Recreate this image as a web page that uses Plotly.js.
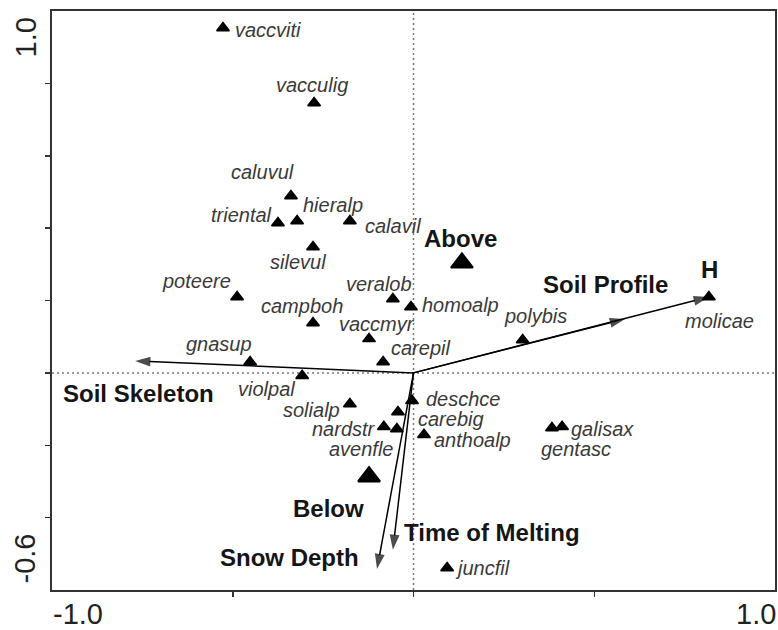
<!DOCTYPE html>
<html><head><meta charset="utf-8">
<script src="https://cdn.plot.ly/plotly-3.0.1.min.js"></script>
<style>html,body{margin:0;padding:0;background:#fff}</style>
</head><body><div id="chart" style="width:778px;height:630px"></div>
<script>
// ---- data: species scores (CCA biplot) ----
const species  = ['vaccviti','vacculig','caluvul','triental','hieralp','calavil','silevul','poteere','veralob','homoalp','campboh','vaccmyr','gnasup','carepil','violpal','solialp','deschce','carebig','nardstr','avenfle','anthoalp','galisax','gentasc','juncfil','polybis','molicae'];
const speciesX = [-0.527,-0.275,-0.339,-0.375,-0.322,-0.176,-0.278,-0.488,-0.057,-0.007,-0.278,-0.123,-0.452,-0.084,-0.308,-0.176,-0.004,-0.043,-0.082,-0.046,0.029,0.411,0.383,0.093,0.302,0.817];
const speciesY = [0.953,0.746,0.489,0.414,0.420,0.420,0.348,0.210,0.204,0.182,0.138,0.094,0.030,0.030,-0.008,-0.086,-0.077,-0.108,-0.149,-0.155,-0.171,-0.149,-0.152,-0.539,0.091,0.210];

// ---- data: nominal variables (centroids) ----
const groups  = ['Above','Below'];
const groupX  = [0.134,-0.123];
const groupY  = [0.304,-0.287];

// ---- data: environmental vectors ----
const envVars = ['Soil Profile','H','Soil Skeleton','Time of Melting','Snow Depth'];
const envX    = [0.585,0.817,-0.770,-0.057,-0.101];
const envY    = [0.149,0.210,0.033,-0.489,-0.542];

// ---- axis ----
const xRange = [-1.0,1.0];
const yRange = [-0.6,1.0];
const xTickLabels = ['-1.0','1.0'];
const yTickLabels = ['1.0','-0.6'];

// ---- label placement (pixel offsets from the point, layout only) ----
const speciesLabelOffset = [[45,-2],[-2,18],[-28,24],[-36,8],[36,16],[43,-5],[-15,-15],[-41,16],[-14,15],[50,2],[-11,17],[8,15],[-31,18],[37,14],[-36,-13],[-38,-6],[51,2],[53,-7],[-40,-2],[-35,-20],[49,-5],[40,-2],[24,-21],[35,0],[13,24],[11,-24]];
const groupLabelOffset = [[-1,24],[-41,-32]];
const envLabelOffset = [[-19,34],[1,27],[3.5,-33],[99.5,17],[-87,12]];

const FONT = 'Arial, "Liberation Sans", sans-serif';
const traces = [];

// vectors with arrowheads
envVars.forEach((name,i)=>{
  traces.push({
    type:'scatter', mode:'lines+markers', x:[0,envX[i]], y:[0,envY[i]],
    line:{color:'#000',width:1.5},
    marker:{symbol:'arrow',size:[0,16],angleref:'previous',color:'#000',line:{width:0}},
    hoverinfo:'skip', cliponaxis:false
  });
});

// species triangles
traces.push({
  type:'scatter', mode:'markers', x:speciesX, y:speciesY, text:species,
  marker:{symbol:'triangle-up',size:11,color:'#000',line:{color:'#000',width:1.5}},
  cliponaxis:false
});
// group centroids
traces.push({
  type:'scatter', mode:'markers', x:groupX, y:groupY, text:groups,
  marker:{symbol:'triangle-up',size:19,color:'#000',line:{color:'#000',width:2}},
  cliponaxis:false
});

const annotations = [];
species.forEach((s,i)=>{
  annotations.push({x:speciesX[i],y:speciesY[i],xref:'x',yref:'y',text:s,showarrow:false,
    xanchor:'center',yanchor:'middle',xshift:speciesLabelOffset[i][0],yshift:speciesLabelOffset[i][1],
    borderpad:0,
    font:{family:FONT,size:20,style:'italic',color:'#3a3a3a'}});
});
groups.forEach((g,i)=>{
  annotations.push({x:groupX[i],y:groupY[i],xref:'x',yref:'y',text:g,showarrow:false,
    xanchor:'center',yanchor:'middle',xshift:groupLabelOffset[i][0],yshift:groupLabelOffset[i][1],
    font:{family:FONT,size:24,weight:700,color:'#151515'}});
});
envVars.forEach((e,i)=>{
  annotations.push({x:envX[i],y:envY[i],xref:'x',yref:'y',text:e,showarrow:false,
    xanchor:'center',yanchor:'middle',xshift:envLabelOffset[i][0],yshift:envLabelOffset[i][1],
    font:{family:FONT,size:24,weight:700,color:'#151515'}});
});
// extreme tick labels (CANOCO style)
const tickFont = {family:FONT,size:29,color:'#222'};
annotations.push({x:xRange[0],y:0,xref:'x',yref:'paper',text:xTickLabels[0],showarrow:false,xanchor:'left',yanchor:'middle',borderpad:0,xshift:0,yshift:-24,font:tickFont});
annotations.push({x:xRange[1],y:0,xref:'x',yref:'paper',text:xTickLabels[1],showarrow:false,xanchor:'right',yanchor:'middle',borderpad:0,xshift:2,yshift:-24,font:tickFont});
annotations.push({x:0,y:yRange[1],xref:'paper',yref:'y',text:yTickLabels[0],showarrow:false,textangle:-90,xanchor:'center',yanchor:'middle',xshift:-27,yshift:-26.5,font:tickFont});
annotations.push({x:0,y:yRange[0],xref:'paper',yref:'y',text:yTickLabels[1],showarrow:false,textangle:-90,xanchor:'center',yanchor:'middle',xshift:-28,yshift:31.5,font:tickFont});

const axisCommon = {showgrid:false,zeroline:false,showline:true,mirror:true,linecolor:'#333',linewidth:2,
  ticks:'outside',ticklen:5,tickwidth:1.5,tickcolor:'#333',showticklabels:false,fixedrange:true};

const layout = {
  width:778,height:630,margin:{l:52,r:3,t:11,b:40},
  paper_bgcolor:'#fff',plot_bgcolor:'#fff',showlegend:false,
  xaxis:Object.assign({range:xRange,tickvals:[-0.5,0,0.5]},axisCommon),
  yaxis:Object.assign({range:yRange,tickvals:[-0.4,-0.2,0,0.2,0.4,0.6,0.8]},axisCommon),
  shapes:[
    {type:'line',xref:'x',yref:'paper',x0:0,x1:0,y0:0,y1:1,line:{color:'#777',width:1.5,dash:'2px,3px'},layer:'below'},
    {type:'line',xref:'paper',yref:'y',x0:0,x1:1,y0:0,y1:0,line:{color:'#777',width:1.5,dash:'2px,3px'},layer:'below'}
  ],
  annotations:annotations
};
Plotly.newPlot('chart',traces,layout,{displayModeBar:false,staticPlot:true});
</script></body></html>
